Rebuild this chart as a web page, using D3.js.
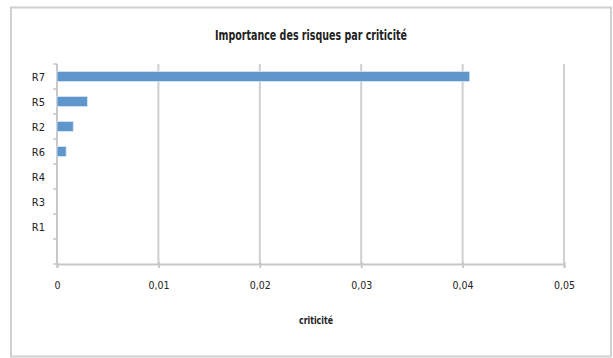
<!DOCTYPE html>
<html><head><meta charset="utf-8">
<script src="https://cdn.jsdelivr.net/npm/d3@7"></script>
<style>
html,body{margin:0;padding:0;background:#fff;}
svg{display:block;}
text{font-family:'Liberation Sans Narrow','DejaVu Sans Condensed','Open Sans',sans-serif;fill:#222;}
</style></head>
<body>
<svg id="chart" width="613" height="358"></svg>
<script>
const categories = ["R7","R5","R2","R6","R4","R3","R1",""];
const values = [0.0407,0.0030,0.0016,0.0009,0,0,0,null];
const xTicks = [0,0.01,0.02,0.03,0.04,0.05];
const xTickLabels = ["0","0,01","0,02","0,03","0,04","0,05"];
const title = "Importance des risques par criticité";
const xTitle = "criticité";

const svg = d3.select("#chart");
// frame
svg.append("rect").attr("x",11).attr("y",7.5).attr("width",600).attr("height",349)
  .attr("fill","#fff").attr("stroke","#d0d0d0").attr("stroke-width",2);

const x = d3.scaleLinear().domain([0,0.05]).range([57,564]);
const y = d3.scaleBand().domain(categories.map((c,i)=>i)).range([64,264]).paddingInner(0.6).paddingOuter(0.3);

// gridlines
svg.append("g").selectAll("line").data(xTicks.slice(1)).join("line")
  .attr("x1",d=>x(d)).attr("x2",d=>x(d)).attr("y1",64).attr("y2",264)
  .attr("stroke","#cfcfcf").attr("stroke-width",2);

// x axis
const xAxis = d3.axisBottom(x).tickValues(xTicks).tickFormat((d,i)=>xTickLabels[i]).tickSize(4).tickPadding(14);
const gx = svg.append("g").attr("transform","translate(0,264)").call(xAxis);
gx.select(".domain").attr("stroke","#c8c8c8").attr("stroke-width",2);
gx.selectAll(".tick line").attr("stroke","#c8c8c8").attr("stroke-width",2).attr("y1",-2);
gx.selectAll(".tick text").attr("font-size",10.5).attr("fill","#333");

// y axis
const yBound = d3.scaleLinear().domain([0,categories.length]).range([64,264]);
const gy = svg.append("g");
gy.append("line").attr("x1",57).attr("x2",57).attr("y1",64).attr("y2",265).attr("stroke","#c8c8c8").attr("stroke-width",2);
gy.selectAll("line.t").data(d3.range(categories.length+1)).join("line").attr("class","t")
  .attr("x1",53).attr("x2",57).attr("y1",d=>yBound(d)).attr("y2",d=>yBound(d))
  .attr("stroke","#c8c8c8").attr("stroke-width",1.5);
gy.selectAll("text").data(categories).join("text")
  .attr("x",45).attr("y",(d,i)=>y(i)+y.bandwidth()/2+4)
  .attr("text-anchor","end").attr("font-size",11).attr("fill","#333").text(d=>d);

// bars
svg.append("g").selectAll("rect").data(values.map((v,i)=>({v,i})).filter(d=>d.v)).join("rect")
  .attr("x",x(0)).attr("y",d=>y(d.i)).attr("width",d=>x(d.v)-x(0)).attr("height",y.bandwidth())
  .attr("fill","#5f96cb").attr("stroke","#d8e6f3").attr("stroke-width",0.8);

// titles
svg.append("text").attr("x",311).attr("y",40).attr("text-anchor","middle")
  .attr("font-size",13.5).attr("font-weight","bold").attr("textLength",192).attr("lengthAdjust","spacingAndGlyphs").text(title);
svg.append("text").attr("x",316).attr("y",324).attr("text-anchor","middle")
  .attr("font-size",11).attr("font-weight","bold").attr("textLength",34).attr("lengthAdjust","spacingAndGlyphs").text(xTitle);
</script>
</body></html>
